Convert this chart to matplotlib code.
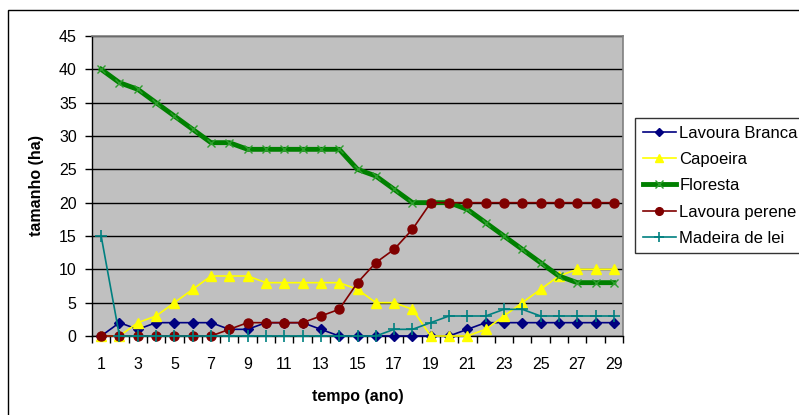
import matplotlib
matplotlib.use("Agg")
import matplotlib.pyplot as plt
from matplotlib.patches import Rectangle

plt.rcParams['font.family'] = ['Liberation Sans', 'DejaVu Sans']

anos = list(range(1, 30))
xticklabels = [str(a) for a in range(1, 30, 2)]

lavoura_branca = [0, 2, 1, 2, 2, 2, 2, 1, 1, 2, 2, 2, 1, 0, 0, 0, 0, 0, 0, 0, 1, 2, 2, 2, 2, 2, 2, 2, 2]
capoeira = [0, 0, 2, 3, 5, 7, 9, 9, 9, 8, 8, 8, 8, 8, 7, 5, 5, 4, 0, 0, 0, 1, 3, 5, 7, 9, 10, 10, 10]
floresta = [40, 38, 37, 35, 33, 31, 29, 29, 28, 28, 28, 28, 28, 28, 25, 24, 22, 20, 20, 20, 19, 17, 15, 13, 11, 9, 8, 8, 8]
lavoura_perene = [0, 0, 0, 0, 0, 0, 0, 1, 2, 2, 2, 2, 3, 4, 8, 11, 13, 16, 20, 20, 20, 20, 20, 20, 20, 20, 20, 20, 20]
madeira_lei = [15, 0, 0, 0, 0, 0, 0, 0, 0, 0, 0, 0, 0, 0, 0, 0, 1, 1, 2, 3, 3, 3, 4, 4, 3, 3, 3, 3, 3]

W, H = 799, 415
fig = plt.figure(figsize=(W / 100, H / 100), dpi=100)

# outer chart frame (extends beyond the image at right/bottom)
fig.patches.append(Rectangle((8 / W, -0.1), 1.2, (H - 10) / H + 0.1, transform=fig.transFigure,
                             fill=False, edgecolor='black', linewidth=1.0))

ax = fig.add_axes([92 / W, (H - 336) / H, (623 - 92) / W, (336 - 36) / H])
ax.set_facecolor('#C0C0C0')

ax.plot(anos, lavoura_branca, color='#000080', marker='D', markersize=5, linewidth=1.2,
        label='Lavoura Branca', clip_on=False, zorder=3)
ax.plot(anos, capoeira, color='#FFFF00', marker='^', markersize=7.5, linewidth=1.2,
        label='Capoeira', clip_on=False, zorder=4)
ax.plot(anos, floresta, color='#008000', marker='x', markersize=6, markeredgewidth=1.0,
        markeredgecolor='#2E9E2E', linewidth=3.5, label='Floresta', clip_on=False, zorder=5)
ax.plot(anos, lavoura_perene, color='#800000', marker='o', markersize=6.5, linewidth=1.2,
        label='Lavoura perene', clip_on=False, zorder=6)
ax.plot(anos, madeira_lei, color='#008080', marker='+', markersize=8, markeredgewidth=1.2,
        linewidth=1.2, label='Madeira de lei', clip_on=False, zorder=7)

ax.set_xlim(0.5, 29.5)
ax.set_ylim(0, 45)
ax.set_yticks(range(0, 46, 5))
ax.yaxis.grid(True, color='black', linewidth=1.0)
ax.set_axisbelow(True)

ax.set_xticks(list(range(1, 30, 2)))
ax.set_xticklabels(xticklabels)
ax.set_xticks([i + 0.5 for i in range(0, 30)], minor=True)
ax.tick_params(axis='x', which='major', length=0, pad=15, labelsize=11.5)
ax.tick_params(axis='x', which='minor', length=5, width=1, direction='out')
ax.tick_params(axis='y', length=5, width=1, direction='out', pad=6, labelsize=11.5)

for s in ['top', 'right']:
    ax.spines[s].set_color('#808080')
    ax.spines[s].set_linewidth(1.2)
for s in ['left', 'bottom']:
    ax.spines[s].set_color('black')
    ax.spines[s].set_linewidth(1.0)

ax.set_ylabel('tamanho (ha)', fontsize=11.5, fontweight='bold', labelpad=11)
ax.set_xlabel('tempo (ano)', fontsize=11.5, fontweight='bold', labelpad=12)

leg = fig.legend(loc='upper left', bbox_to_anchor=(635 / W, 1 - 118 / H), borderaxespad=0,
                 fontsize=12, frameon=True, fancybox=False, edgecolor='black', markerscale=0.85,
                 handlelength=2.0, handletextpad=0.2, labelspacing=0.68, borderpad=0.45)
leg.get_frame().set_linewidth(1.0)

fig.savefig('out.png', dpi=100)
